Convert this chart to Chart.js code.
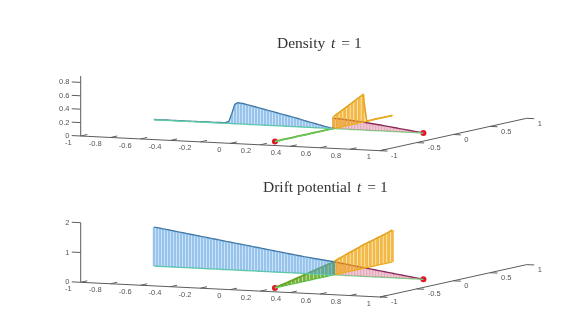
<!DOCTYPE html>
<html>
<head>
    <title>Density and drift potential</title>
    <script src="https://cdn.jsdelivr.net/npm/chart.js"></script>
    <style>
        body { margin: 0; background: #fff; }
        canvas { position: absolute; left: 0; filter: blur(0.45px); }
    </style>
</head>
<body>
    <canvas id="densityChart" width="583" height="167" style="top:0"></canvas>
    <canvas id="driftChart" width="583" height="168" style="top:167px"></canvas>
    <script>
        // tick labels
        const xTicks = [-1, -0.8, -0.6, -0.4, -0.2, 0, 0.2, 0.4, 0.6, 0.8, 1];
        const yTicks = [-1, -0.5, 0, 0.5, 1];
        const densityZTicks = [0, 0.2, 0.4, 0.6, 0.8];
        const driftZTicks = [0, 1, 2];

        // density, edge values going out from the junction at (0.2, 0)
        const densityLeft = [
            0.002, 0.008, 0.018, 0.028, 0.038, 0.048, 0.06, 0.07, 0.08, 0.09, 0.102,
            0.115, 0.125, 0.135, 0.145, 0.155, 0.165, 0.175, 0.185, 0.195, 0.205,
            0.215, 0.225, 0.235, 0.245, 0.255, 0.265, 0.275, 0.285, 0.295, 0.305,
            0.31, 0.315, 0.29, 0.15, 0.03, 0.012, 0.008, 0.007, 0.006, 0.006,
            0.006, 0.006, 0.006, 0.005, 0.005, 0.005, 0.005, 0.005, 0.005, 0.005,
            0.005, 0.005, 0.005, 0.005, 0.005, 0.005, 0.004, 0.004, 0.004, 0.004
        ];
        const densityRight = [
            0.155, 0.152, 0.149, 0.146, 0.142, 0.138, 0.134, 0.13, 0.126, 0.122, 0.117,
            0.112, 0.107, 0.102, 0.096, 0.09, 0.085, 0.079, 0.073, 0.067, 0.061,
            0.055, 0.049, 0.043, 0.037, 0.031, 0.025, 0.019, 0.013, 0.007, 0.002
        ];
        const densityFront = [
            0.004, 0.004, 0.004, 0.004, 0.004, 0.004, 0.004, 0.004, 0.004,
            0.004, 0.004, 0.004, 0.004, 0.004, 0.004, 0.003, 0.002
        ];
        const densityBack = [
            0.18, 0.208, 0.236, 0.265, 0.294, 0.323, 0.352, 0.381, 0.41,
            0.006, 0.005, 0.005, 0.005, 0.005, 0.004, 0.004, 0.004
        ];

        // drift potential, same edges
        const driftLeft = [
            0.44, 0.452, 0.465, 0.477, 0.49, 0.502, 0.515, 0.527, 0.54, 0.552, 0.564,
            0.579, 0.594, 0.608, 0.623, 0.638, 0.653, 0.668, 0.683, 0.698, 0.713,
            0.728, 0.742, 0.757, 0.772, 0.787, 0.802, 0.817, 0.832, 0.847, 0.862,
            0.876, 0.891, 0.906, 0.92, 0.935, 0.95, 0.965, 0.98, 0.995, 1.01,
            1.025, 1.04, 1.055, 1.07, 1.085, 1.1, 1.115, 1.13, 1.145, 1.16,
            1.175, 1.19, 1.205, 1.22, 1.235, 1.25, 1.265, 1.28, 1.295, 1.31
        ];
        const driftRight = [
            0.44, 0.425, 0.41, 0.396, 0.381, 0.367, 0.352, 0.337, 0.323, 0.308, 0.293,
            0.279, 0.264, 0.25, 0.235, 0.22, 0.205, 0.191, 0.176, 0.161, 0.147,
            0.132, 0.117, 0.103, 0.088, 0.073, 0.059, 0.044, 0.029, 0.015, 0
        ];
        const driftFront = [
            0.44, 0.41, 0.385, 0.355, 0.33, 0.3, 0.275, 0.245, 0.22,
            0.19, 0.165, 0.135, 0.11, 0.08, 0.055, 0.03, 0
        ];
        const driftBack = [
            0.44, 0.49, 0.53, 0.575, 0.62, 0.66, 0.7, 0.74, 0.79,
            0.82, 0.85, 0.885, 0.92, 0.95, 0.985, 1.03, 1.07
        ];

        // graph geometry: [x, y] of the junction and of the four edge ends
        const junction = [0.2, 0];
        const leftEnd = [-1, 0];
        const rightEnd = [0.8, 0];
        const frontEnd = [0.2, -0.8];
        const backEnd = [0.2, 0.8];

        // orthographic view of the 3d axes, in canvas pixels per data unit
        const xDir = [149.65, 7.35];
        const yDir = [73.35, -16.2];

        function project(panel, x, y, z) {
            return {
                x: panel.origin[0] + (x + 1) * xDir[0] + (y + 1) * yDir[0],
                y: panel.origin[1] + (x + 1) * xDir[1] + (y + 1) * yDir[1] - z * panel.zScale
            };
        }

        function segments(panel, list) {
            const pts = [];
            list.forEach(s => {
                pts.push(project(panel, s[0], s[1], s[2]));
                pts.push(project(panel, s[3], s[4], s[5]));
                pts.push({ x: NaN, y: NaN });
            });
            return pts;
        }

        function lineSet(data, color, width) {
            return {
                data: data,
                showLine: true,
                spanGaps: false,
                borderColor: color,
                borderWidth: width,
                pointRadius: 0,
                borderCapStyle: 'butt'
            };
        }

        // stems, top line and base line of one edge
        function edgeSets(panel, end, values, style) {
            const n = values.length - 1;
            const at = i => [
                junction[0] + (end[0] - junction[0]) * i / n,
                junction[1] + (end[1] - junction[1]) * i / n
            ];
            const stems = values.map((v, i) => {
                const p = at(i);
                return [p[0], p[1], 0, p[0], p[1], v];
            });
            const top = values.map((v, i) => project(panel, at(i)[0], at(i)[1], v));
            const base = values.map((v, i) => project(panel, at(i)[0], at(i)[1], 0));
            return [
                lineSet(segments(panel, stems), style.stem, style.stemWidth),
                lineSet(base, style.base, 1.3),
                lineSet(top, style.line, style.lineWidth)
            ];
        }

        function axisSets(panel) {
            const zTop = panel.zTop;
            const lines = [[-1, -1, 0, 1, -1, 0], [1, -1, 0, 1, 1, 0], [-1, -1, 0, -1, -1, zTop]];
            xTicks.forEach(t => lines.push([t, -1, 0, t, -0.91, 0]));
            yTicks.forEach(t => lines.push([1, t, 0, 1.05, t, 0]));
            panel.zTicks.forEach(t => lines.push([-1, -1, t, -1.06, -1, t]));
            return [lineSet(segments(panel, lines), '#5c5c5c', 1)];
        }

        const axisText = {
            id: 'axisText',
            afterDraw(chart, args, opts) {
                const panel = opts.panel;
                const c = chart.ctx;
                const sx = chart.scales.x;
                const sy = chart.scales.y;
                const put = (text, p, dx, dy, align) => {
                    c.textAlign = align;
                    c.fillText(text, sx.getPixelForValue(p.x) + dx, sy.getPixelForValue(p.y) + dy);
                };
                c.save();
                c.font = '7.5px "Liberation Sans"';
                c.fillStyle = '#555';
                c.textBaseline = 'middle';
                xTicks.forEach(t => put(String(t), project(panel, t, -1, 0), -9, 6.5, 'right'));
                yTicks.forEach(t => put(String(t), project(panel, 1, t, 0), 11, 5.3, 'left'));
                panel.zTicks.forEach(t => put(String(t), project(panel, -1, -1, t), -11.2, 0, 'right'));

                // title, the t is italic as in the original
                c.fillStyle = '#333';
                c.textAlign = 'left';
                c.textBaseline = 'alphabetic';
                let x = panel.titleX;
                [[panel.title + ' ', 'normal'], ['t', 'italic'], [' = 1', 'normal']].forEach(part => {
                    c.font = part[1] + ' 15.5px "Liberation Serif"';
                    c.fillText(part[0], x, panel.titleY);
                    x += c.measureText(part[0]).width + 2;
                });
                c.restore();
            }
        };

        function drawPanel(id, panel, left, right, front, back) {
            const datasets = [].concat(
                axisSets(panel),
                edgeSets(panel, leftEnd, left, { stem: 'rgba(85,160,225,0.62)', stemWidth: 2.5, base: '#62d69a', line: '#3f7099', lineWidth: 1.4 }),
                edgeSets(panel, frontEnd, front, { stem: 'rgba(95,165,25,0.85)', stemWidth: 3.1, base: '#6bd06a', line: '#6ea52c', lineWidth: 1.8 }),
                edgeSets(panel, backEnd, back, { stem: 'rgba(240,170,30,0.82)', stemWidth: 3.1, base: '#e8b020', line: '#dd9f1c', lineWidth: 1.6 }),
                edgeSets(panel, rightEnd, right, { stem: 'rgba(205,90,125,0.5)', stemWidth: 2.4, base: '#7fdc8a', line: '#7c2150', lineWidth: 1.4 })
            );
            datasets.push({
                data: [project(panel, frontEnd[0], frontEnd[1], 0), project(panel, rightEnd[0], rightEnd[1], 0)],
                backgroundColor: '#e2182a',
                borderWidth: 0,
                pointRadius: 3
            });
            new Chart(document.getElementById(id), {
                type: 'scatter',
                data: { datasets: datasets },
                plugins: [axisText],
                options: {
                    responsive: false,
                    animation: false,
                    layout: { padding: 0, autoPadding: false },
                    scales: {
                        x: { type: 'linear', display: false, min: 0, max: 583 },
                        y: { type: 'linear', display: false, min: 0, max: panel.height, reverse: true }
                    },
                    plugins: {
                        legend: { display: false },
                        tooltip: { enabled: false },
                        axisText: { panel: panel }
                    }
                }
            });
        }

        drawPanel('densityChart', {
            origin: [80.7, 136], zScale: 67, zTop: 0.895, zTicks: densityZTicks, height: 167,
            title: 'Density', titleX: 277, titleY: 48
        }, densityLeft, densityRight, densityFront, densityBack);

        drawPanel('driftChart', {
            origin: [80.7, 115.3], zScale: 29.8, zTop: 2, zTicks: driftZTicks, height: 168,
            title: 'Drift potential', titleX: 263, titleY: 25
        }, driftLeft, driftRight, driftFront, driftBack);
    </script>
</body>
</html>
